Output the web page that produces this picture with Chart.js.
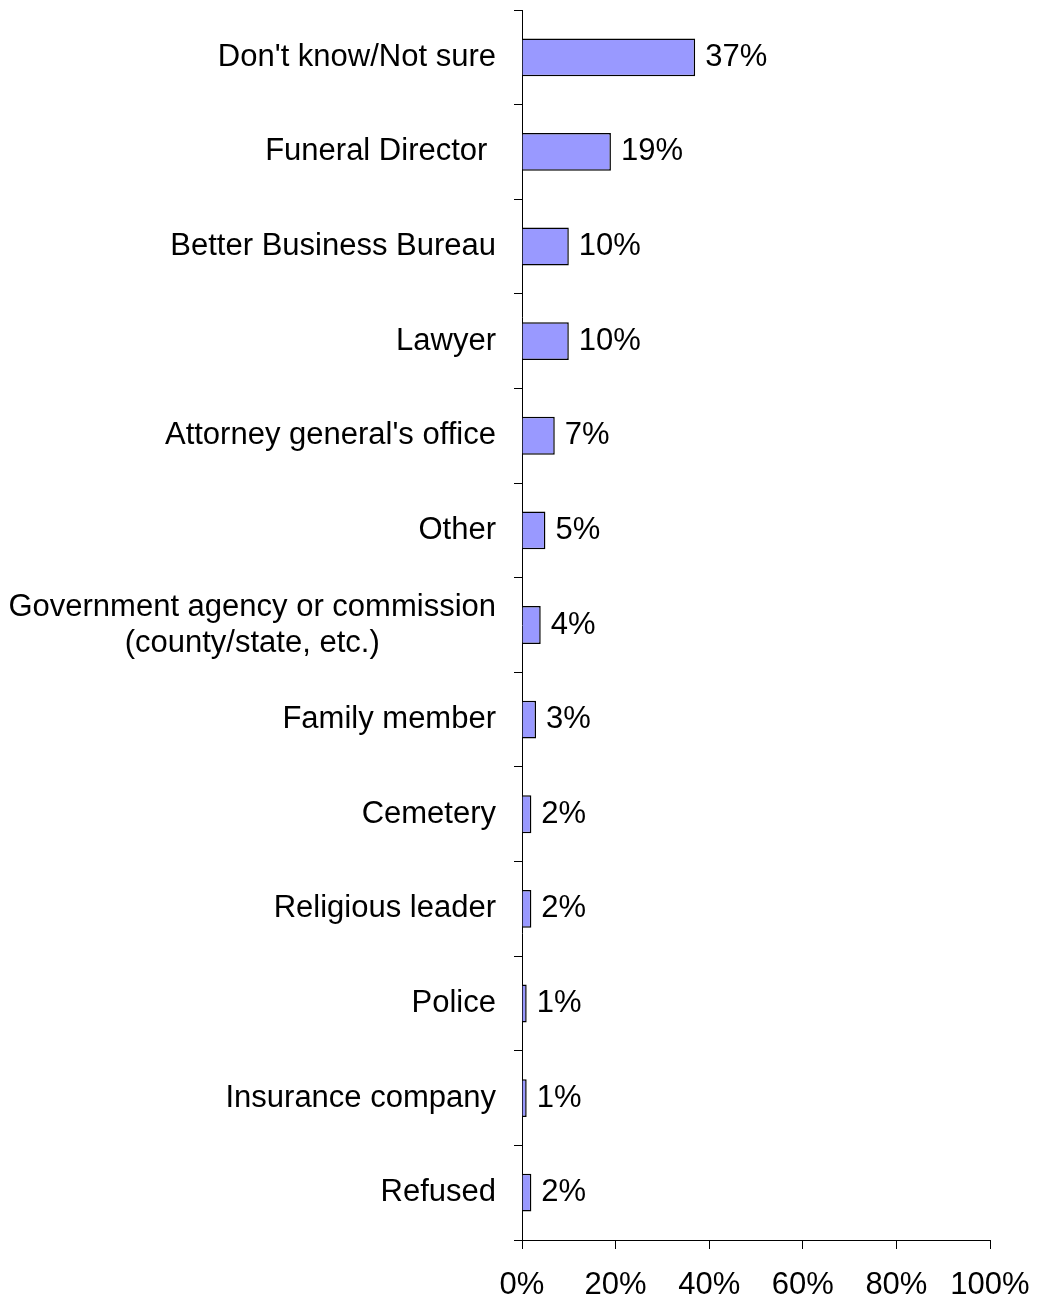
<!DOCTYPE html>
<html>
<head>
<meta charset="utf-8">
<script src="https://cdn.jsdelivr.net/npm/chart.js@4/dist/chart.umd.min.js"></script>
<style>
  html, body { margin: 0; padding: 0; background: #fff; }
  #wrap { width: 1037px; height: 1301px; position: relative; }
</style>
</head>
<body>
<div id="wrap"><canvas id="myChart"></canvas></div>
<script>
// categories, top to bottom
const categories = [
  "Don't know/Not sure",
  "Funeral Director ",
  "Better Business Bureau",
  "Lawyer",
  "Attorney general's office",
  "Other",
  ["Government agency or commission", "(county/state, etc.)"],
  "Family member",
  "Cemetery",
  "Religious leader",
  "Police",
  "Insurance company",
  "Refused",
];
const values = [37, 19, 10, 10, 7, 5, 4, 3, 2, 2, 1, 1, 2];
const xTicks = [0, 20, 40, 60, 80, 100];

const FONT = '"Liberation Sans", Arial, sans-serif';
const FONT_SIZE = 31;

// valeurs à droite des barres
const valueLabels = {
  id: "valueLabels",
  afterDatasetsDraw(chart) {
    const ctx = chart.ctx;
    const meta = chart.getDatasetMeta(0);
    ctx.save();
    ctx.font = FONT_SIZE + "px " + FONT;
    ctx.fillStyle = "#000";
    ctx.textAlign = "left";
    ctx.textBaseline = "middle";
    meta.data.forEach((bar, i) => {
      ctx.fillText(values[i] + "%", bar.x + 10, bar.y);
    });
    ctx.restore();
  },
};

// libellés de catégories : lignes centrées entre elles, bloc aligné à droite
const categoryLabels = {
  id: "categoryLabels",
  afterDraw(chart) {
    const ctx = chart.ctx;
    const y = chart.scales.y;
    const xRight = y.right - 8 - 18;
    const lineH = 36;
    ctx.save();
    ctx.font = FONT_SIZE + "px " + FONT;
    ctx.fillStyle = "#000";
    ctx.textAlign = "center";
    ctx.textBaseline = "middle";
    categories.forEach((label, i) => {
      const lines = Array.isArray(label) ? label : [label];
      const w = Math.max(...lines.map((l) => ctx.measureText(l).width));
      const cx = xRight - w / 2;
      const cy = y.getPixelForTick(i);
      lines.forEach((l, j) => {
        ctx.fillText(l, cx, cy + (j - (lines.length - 1) / 2) * lineH);
      });
    });
    ctx.restore();
  },
};

const ctx = document.getElementById("myChart").getContext("2d");
const myChart = new Chart(ctx, {
  type: "bar",
  data: {
    labels: categories,
    datasets: [
      {
        data: values,
        backgroundColor: "#9999FF",
        borderColor: "#000",
        borderWidth: 1.5,
        barPercentage: 0.4,
        categoryPercentage: 1,
      },
    ],
  },
  options: {
    indexAxis: "y",
    responsive: true,
    maintainAspectRatio: false,
    animation: false,
    layout: { padding: { top: 10, right: 0, left: 0, bottom: 0 } },
    plugins: {
      legend: { display: false },
      tooltip: { enabled: false },
    },
    scales: {
      x: {
        min: 0,
        max: 100,
        afterBuildTicks: (axis) => {
          axis.ticks = xTicks.map((v) => ({ value: v }));
        },
        afterFit: (axis) => {
          axis.height = 61;
          axis.paddingRight = 47;
          axis.paddingLeft = 0;
        },
        grid: {
          drawOnChartArea: false,
          tickLength: 9,
          color: "#000",
        },
        border: { color: "#000", width: 1 },
        ticks: {
          font: { family: FONT, size: FONT_SIZE },
          color: "#000",
          padding: 18,
          maxRotation: 0,
          callback: (v) => v + "%",
        },
      },
      y: {
        afterFit: (axis) => {
          axis.width = 522;
          axis.paddingTop = 0;
          axis.paddingBottom = 0;
        },
        grid: {
          drawOnChartArea: false,
          offset: true,
          tickLength: 8,
          color: "#000",
        },
        border: { color: "#000", width: 1 },
        ticks: { display: false, autoSkip: false },
      },
    },
  },
  plugins: [valueLabels, categoryLabels],
});
</script>
</body>
</html>
